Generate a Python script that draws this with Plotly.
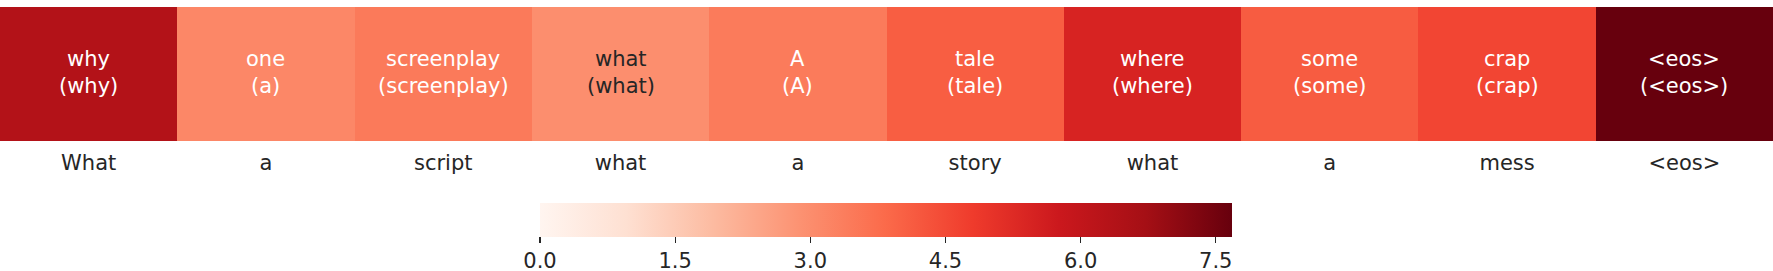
import plotly.graph_objects as go

tokens_out = ["why", "one", "screenplay", "what", "A", "tale", "where", "some", "crap", "<eos>"]
tokens_ref = ["why", "a", "screenplay", "what", "A", "tale", "where", "some", "crap", "<eos>"]
tokens_x = ["What", "a", "script", "what", "a", "story", "what", "a", "mess", "<eos>"]
values = [6.37, 3.14, 3.46, 2.98, 3.43, 4.09, 5.45, 4.13, 4.59, 7.68]
cbar_ticks = [0.0, 1.5, 3.0, 4.5, 6.0, 7.5]

ZMIN, ZMAX = 0.0, 7.68
reds = ["#fff5f0", "#fee0d2", "#fcbba1", "#fc9272", "#fb6a4a",
        "#ef3b2c", "#cb181d", "#a50f15", "#67000d"]
colorscale = [[i / (len(reds) - 1), c] for i, c in enumerate(reds)]


def hex2rgb(h):
    h = h.lstrip("#")
    return [int(h[i:i + 2], 16) for i in (0, 2, 4)]


def color_at(v):
    t = (v - ZMIN) / (ZMAX - ZMIN)
    t = min(max(t, 0), 1)
    n = len(reds) - 1
    i = min(int(t * n), n - 1)
    f = t * n - i
    a, b = hex2rgb(reds[i]), hex2rgb(reds[i + 1])
    return [a[k] + (b[k] - a[k]) * f for k in range(3)]


def luminance(rgb):
    out = []
    for c in rgb:
        c = c / 255
        out.append(c / 12.92 if c <= 0.03928 else ((c + 0.055) / 1.055) ** 2.4)
    return 0.2126 * out[0] + 0.7152 * out[1] + 0.0722 * out[2]


xcats = list(range(len(values)))
FONT = "DejaVu Sans"
PLOT_TOP, PLOT_BOT = 7, 141
PLOT_H = PLOT_BOT - PLOT_TOP

fig = go.Figure()
fig.add_trace(go.Heatmap(
    z=[values], x=xcats, y=[0],
    zmin=ZMIN, zmax=ZMAX, colorscale=colorscale,
    xgap=0, ygap=0, hoverinfo="skip",
    colorbar=dict(
        orientation="h",
        x=886 / 1773, xanchor="center",
        y=(PLOT_BOT - 203) / PLOT_H, yanchor="top",
        len=692, lenmode="pixels",
        thickness=34, thicknessmode="pixels",
        outlinewidth=0, xpad=0, ypad=0,
        tickvals=cbar_ticks, ticktext=[f"{t:.1f}" for t in cbar_ticks],
        ticks="outside", ticklen=6, tickwidth=1.3, tickcolor="#262626",
        tickfont=dict(family=FONT, size=21, color="#262626"),
    ),
))

for i, (o, r, v) in enumerate(zip(tokens_out, tokens_ref, values)):
    col = "#262626" if luminance(color_at(v)) > 0.408 else "white"
    fig.add_annotation(
        x=i, y=0, text=o, showarrow=False, yshift=15,
        font=dict(family=FONT, size=21, color=col),
    )
    fig.add_annotation(
        x=i, y=0, text=f"({r})", showarrow=False, yshift=-12,
        font=dict(family=FONT, size=21, color=col),
    )

fig.update_layout(
    width=1773, height=271,
    margin=dict(l=0, r=0, t=PLOT_TOP, b=271 - PLOT_BOT, autoexpand=False),
    paper_bgcolor="white", plot_bgcolor="white",
    xaxis=dict(
        tickmode="array", tickvals=xcats, ticktext=tokens_x,
        showgrid=False, zeroline=False, showline=False, ticks="",
        ticklabelstandoff=7,
        tickfont=dict(family=FONT, size=21, color="#262626"),
        range=[-0.5, len(values) - 0.5],
    ),
    yaxis=dict(visible=False, range=[-0.5, 0.5]),
)

fig.write_html(
    "out.html",
    config={"displayModeBar": False, "staticPlot": True},
    post_script="document.body.style.margin='0px';document.body.style.overflow='hidden';",
)
